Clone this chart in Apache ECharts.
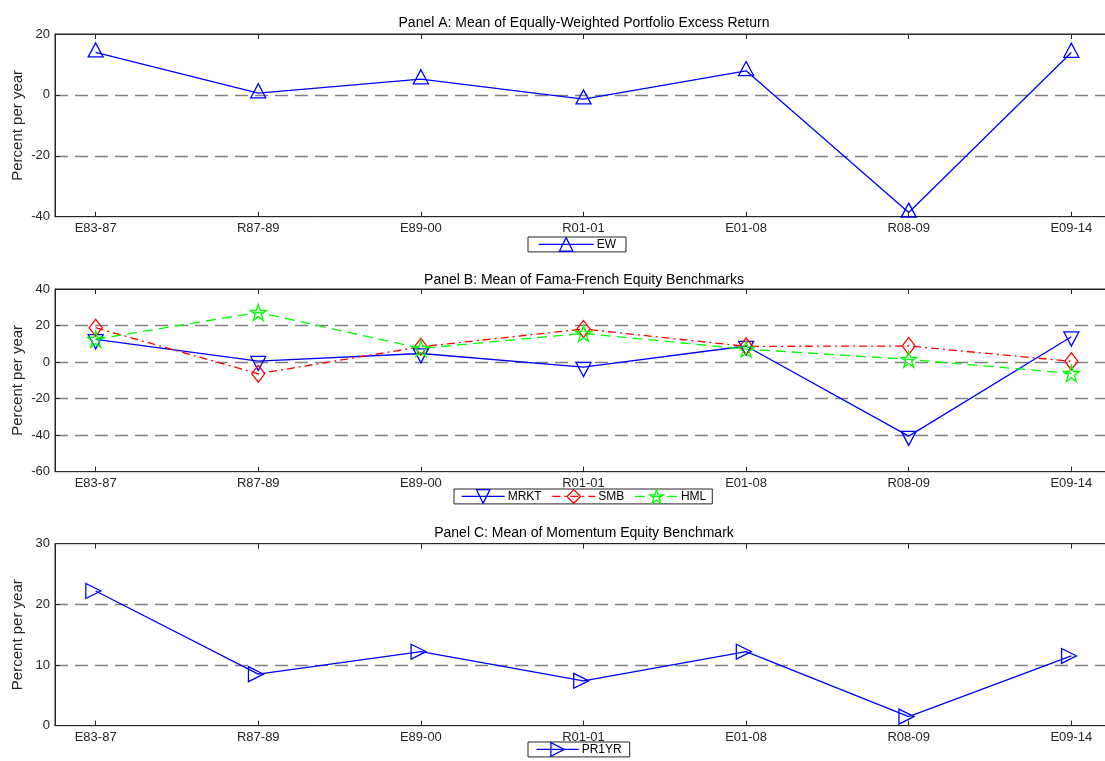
<!DOCTYPE html>
<html>
<head>
<meta charset="utf-8">
<script src="https://cdn.jsdelivr.net/npm/echarts@6/dist/echarts.min.js"></script>
<style>
html,body{margin:0;padding:0;background:#fff;}
#chart{width:1105px;height:761px;}
</style>
</head>
<body>
<div id="chart"></div>
<script>
const categories = ['E83-87','R87-89','E89-00','R01-01','E01-08','R08-09','E09-14'];
const ew    = [14.0, 0.6, 5.2, -1.4, 7.9, -38.6, 13.9];
const mrkt  = [12.4, 0.5, 4.7, -2.8, 8.8, -40.5, 13.9];
const smb   = [18.8, -6.4, 8.4, 18.1, 8.6, 8.8, 0.4];
const hml   = [12.5, 27.2, 7.5, 15.7, 7.1, 1.5, -6.2];
const pr1yr = [22.2, 8.5, 12.2, 7.4, 12.2, 1.5, 11.5];
const titles = ['Panel A: Mean of Equally-Weighted Portfolio Excess Return',
                'Panel B: Mean of Fama-French Equity Benchmarks',
                'Panel C: Mean of Momentum Equity Benchmark'];
const yLabel = 'Percent per year';

function pts(arr){ return arr.map((v,i)=>[i+1, v]); }

// pentagram path
function starPath(){
  let d = '';
  for(let k=0;k<10;k++){
    const r = (k%2===0)?1:0.382;
    const a = (-90 + k*36)*Math.PI/180;
    const x = (r*Math.cos(a)*50+50).toFixed(2), y = (r*Math.sin(a)*50+50).toFixed(2);
    d += (k===0?'M':'L')+x+' '+y+' ';
  }
  return 'path://'+d+'Z';
}
const STAR = starPath();

const BLUE='#0000ff', RED='#ff0000', GREEN='#00ff00';
const FONT='Liberation Sans, Arial, Helvetica, sans-serif';
const grids = [
  {left:55, right:-7, top:34, height:182.7},
  {left:55, right:-7, top:289, height:182.7},
  {left:55, right:-7, top:543.7, height:182},
];
const yRanges = [[-40,20,20],[-60,40,20],[0,30,10]];

const option = {
  animation:false,
  textStyle:{fontFamily:FONT},
  title: titles.map((t,i)=>({
    text:t, left:579, textAlign:'center', top:[11,268,521][i],
    textStyle:{fontFamily:FONT, fontSize:14, fontWeight:'normal', color:'#000'}
  })),
  grid: grids.map(g=>Object.assign({show:true, containLabel:false, outerBoundsMode:'none',
        borderColor:'#262626', borderWidth:1, backgroundColor:'#fff'}, g)),
  xAxis: [],
  yAxis: [],
  legend: [],
  series: []
};

for(let i=0;i<3;i++){
  option.xAxis.push({
    type:'value', gridIndex:i, min:0.75, max:7.25, position:'bottom',
    axisLine:{show:true, onZero:false, lineStyle:{color:'#262626', width:1}},
    axisTick:{show:true, inside:true, length:5, customValues:[1,2,3,4,5,6,7], lineStyle:{color:'#262626'}},
    axisLabel:{show:true, customValues:[1,2,3,4,5,6,7], formatter:v=>categories[Math.round(v)-1]||'',
               color:'#262626', fontSize:13, fontFamily:FONT, margin:5},
    splitLine:{show:false}
  });
  option.xAxis.push({
    type:'value', gridIndex:i, min:0.75, max:7.25, position:'top',
    axisLine:{show:true, onZero:false, lineStyle:{color:'#262626', width:1}},
    axisTick:{show:true, inside:true, length:5, customValues:[1,2,3,4,5,6,7], lineStyle:{color:'#262626'}},
    axisLabel:{show:false},
    splitLine:{show:false}
  });
  const r = yRanges[i];
  option.yAxis.push({
    type:'value', gridIndex:i, min:r[0], max:r[1], interval:r[2],
    name:yLabel, nameLocation:'middle', nameGap:30, nameMoveOverlap:false,
    nameTextStyle:{fontFamily:FONT, fontSize:15, color:'#262626'},
    axisLine:{show:true, onZero:false, lineStyle:{color:'#262626', width:1}},
    axisTick:{show:true, inside:true, length:5, lineStyle:{color:'#262626'}},
    axisLabel:{color:'#262626', fontSize:13, fontFamily:FONT, margin:5},
    splitLine:{show:true, showMinLine:false, showMaxLine:false,
               lineStyle:{color:'#808080', width:1.3, type:[13,7]}}
  });
}

function mk(name, data, xi, yi, color, lineType, symbol, size, rotate, offset){
  return {
    name, type:'line', xAxisIndex:xi, yAxisIndex:yi, data:pts(data),
    symbol, symbolSize:size, symbolRotate:rotate||0, symbolOffset:offset||[0,0],
    showAllSymbol:true,
    lineStyle:{color, width:1.3, type:lineType},
    itemStyle:{color:'rgba(255,255,255,0)', borderColor:color, borderWidth:1.3},
    z:3
  };
}

option.series.push(mk('EW', ew, 0, 0, BLUE, 'solid', 'triangle', [15,14], 0, [0,-2.3]));
option.series.push(mk('MRKT', mrkt, 2, 1, BLUE, 'solid', 'triangle', [15,14], 180, [0,2.3]));
option.series.push(mk('SMB', smb, 2, 1, RED, [8,4,2,4], 'diamond', [13,17], 0));
option.series.push(mk('HML', hml, 2, 1, GREEN, [10,6], STAR, [16,16], 0));
option.series.push(mk('PR1YR', pr1yr, 4, 2, BLUE, 'solid', 'triangle', [15,15], -90, [-2.3,0]));

function leg(data, left, top, w, gap, pad){
  return {
    data, left, top, orient:'horizontal', itemWidth:w, itemHeight:17, itemGap:gap,
    borderColor:'#262626', borderWidth:1, padding:pad, backgroundColor:'#fff',
    itemStyle:{color:'rgba(255,255,255,0)', borderColor:'inherit', borderWidth:1.3},
    lineStyle:{width:1.3},
    textStyle:{fontFamily:FONT, fontSize:12, color:'#000', padding:[0,0,0,-2]}
  };
}
option.legend.push(leg(['EW'], 528, 237, 55, 8, [0,10,0,10]));
option.legend.push(leg(['MRKT','SMB','HML'], 454, 489, 43, 10, [0,6,0,7]));
option.legend.push(leg(['PR1YR'], 528, 742, 42, 8, [0,8,0,8]));

const chart = echarts.init(document.getElementById('chart'), null, {renderer:'canvas'});
chart.setOption(option);
</script>
</body>
</html>
